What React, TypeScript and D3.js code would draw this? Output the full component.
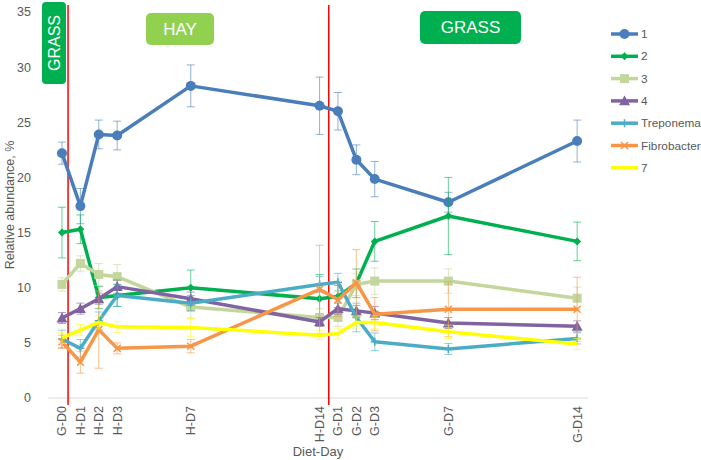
import React from "react";
import * as d3 from "d3";

const categories = ["G-D0","H-D1","H-D2","H-D3","H-D7","H-D14","G-D1","G-D2","G-D3","G-D7","G-D14"];
const dayPos = [0,1,2,3,7,14,15,16,17,21,28];

const s1 = [22.2,17.4,23.9,23.8,28.3,26.5,26.0,21.6,19.85,17.75,23.3];
const e1 = [1.0,1.6,1.3,1.3,1.9,2.6,1.7,1.35,1.6,0.9,1.9];
const s2 = [15.0,15.3,9.1,9.3,10.0,9.0,9.2,10.4,14.2,16.5,14.2];
const e2 = [2.3,1.3,1.0,1.0,1.6,2.2,1.0,1.3,1.8,3.5,1.75];
const s3 = [10.3,12.2,11.2,11.0,8.25,7.3,7.3,10.3,10.6,10.6,9.05];
const e3 = [0.6,0.7,1.0,1.1,1.0,0.8,0.8,1.0,1.2,1.1,1.0];
const s4 = [7.25,8.1,9.0,10.1,9.0,6.9,8.1,7.9,7.7,6.8,6.5];
const e4 = [0.5,0.5,0.5,0.6,0.6,0.4,0.5,0.5,0.6,0.5,0.5];
const sTrep = [5.35,4.5,7.0,9.3,8.6,10.3,10.5,7.3,5.1,4.45,5.4];
const eTrep = [0.8,0.8,0.8,1.0,0.7,0.7,0.8,1.3,0.8,0.5,0.5];
const sFib = [5.1,3.25,6.2,4.5,4.7,9.85,8.9,10.45,7.6,8.05,8.05];
const eFib = [0.6,1.0,3.5,0.5,0.6,4.0,1.5,3.0,1.5,2.5,2.9];
const s7 = [5.45,6.15,6.85,6.45,6.4,5.7,5.85,6.85,6.85,6.0,4.9];
const e7 = [0.5,0.5,0.6,0.5,0.8,0.4,0.5,0.5,0.6,0.6,0.5];

const seriesNames = ["1","2","3","4","Treponema","Fibrobacter","7"];
const seriesColors = ["#4a7ebb","#00b050","#c3d69b","#8064a2","#4bacc6","#f79646","#ffff00"];
const seriesMarkers = ["circle","diamond","square","triangle","plus","cross","none"];
const seriesValues = [s1,s2,s3,s4,sTrep,sFib,s7];
const seriesErrors = [e1,e2,e3,e4,eTrep,eFib,e7];

const yTicks = [0,5,10,15,20,25,30,35];
const dietChanges = [0.33, 14.5];

const W = 701, H = 460;
const FONT = "'Liberation Sans', Arial, sans-serif";
const TXT = "#595959";

function Marker({ type, x, y, color }: { type: string; x: number; y: number; color: string }) {
  if (type === "circle") return <circle cx={x} cy={y} r={5} fill={color} />;
  if (type === "diamond") {
    const r = 4;
    return <path d={`M${x},${y - r}L${x + r},${y}L${x},${y + r}L${x - r},${y}Z`} fill={color} />;
  }
  if (type === "square") return <rect x={x - 4.5} y={y - 4.5} width={9} height={9} fill={color} />;
  if (type === "triangle") {
    const r = 5.5;
    return <path d={`M${x},${y - r}L${x + r},${y + r * 0.8}L${x - r},${y + r * 0.8}Z`} fill={color} />;
  }
  if (type === "plus") {
    const r = 4;
    return <path d={`M${x - r},${y}L${x + r},${y}M${x},${y - r}L${x},${y + r}`} stroke={color} strokeWidth={1.5} />;
  }
  if (type === "cross") {
    const r = 3.5;
    return <path d={`M${x - r},${y - r}L${x + r},${y + r}M${x - r},${y + r}L${x + r},${y - r}`} stroke={color} strokeWidth={1.5} />;
  }
  return null;
}

export default function App() {
  const x = d3.scaleLinear().domain([-0.76, 28.59]).range([48, 588]);
  const y = d3.scaleLinear().domain([0, 35]).range([398, 12]);

  const line = d3.line<number>()
    .x((_, i) => x(dayPos[i]))
    .y((v) => y(v));

  return (
    <svg width={W} height={H} style={{ position: "absolute", left: 0, top: 0, background: "#fff" }} fontFamily={FONT}>
      {/* y tick labels */}
      {yTicks.map((t) => (
        <text key={t} x={31} y={y(t)} dy="0.35em" textAnchor="end" fontSize={12.5} fill={TXT}>{t}</text>
      ))}
      <text transform={`translate(10,${y(17.5)}) rotate(-90)`} textAnchor="middle" dy="0.35em" fontSize={12.5} fill={TXT}>
        Relative abundance, %
      </text>

      {/* x axis */}
      <line x1={x.range()[0]} x2={x.range()[1]} y1={y(0)} y2={y(0)} stroke="#d9d9d9" strokeWidth={1} />
      {categories.map((c, i) => (
        <text key={c} transform={`translate(${x(dayPos[i])},${y(0) + 8}) rotate(-90)`} textAnchor="end" dy="0.35em" fontSize={12.5} fill={TXT}>{c}</text>
      ))}
      <text x={318} y={456} textAnchor="middle" fontSize={13} fill={TXT}>Diet-Day</text>

      {/* diet change lines */}
      {dietChanges.map((d) => (
        <line key={d} x1={x(d)} x2={x(d)} y1={5} y2={y(0) + 7} stroke="#ff0000" strokeWidth={1.5} />
      ))}

      {/* diet boxes */}
      <rect x={42} y={2} width={24} height={82} rx={4} fill="#00b050" />
      <text transform={`translate(54.5,43) rotate(-90)`} textAnchor="middle" dy="0.36em" fontSize={16} fill="#fff">GRASS</text>
      <rect x={146} y={13} width={68} height={32} rx={5} fill="#92d050" />
      <text x={180} y={29} textAnchor="middle" dy="0.36em" fontSize={17} fill="#fff">HAY</text>
      <rect x={420} y={11} width={101} height={33} rx={5} fill="#00b050" />
      <text x={470.5} y={27} textAnchor="middle" dy="0.36em" fontSize={17} fill="#fff">GRASS</text>

      {/* series */}
      {seriesValues.map((vals, si) => {
        const col = seriesColors[si];
        const errs = seriesErrors[si];
        return (
          <g key={si}>
            {vals.map((v, i) => {
              const cx = x(dayPos[i]);
              const t = y(v + errs[i]);
              const b = y(Math.max(0, v - errs[i]));
              return (
                <g key={i} stroke={col} strokeOpacity={0.6} strokeWidth={1}>
                  <line x1={cx} x2={cx} y1={t} y2={b} />
                  <line x1={cx - 4} x2={cx + 4} y1={t} y2={t} />
                  <line x1={cx - 4} x2={cx + 4} y1={b} y2={b} />
                </g>
              );
            })}
            <path d={line(vals) || ""} fill="none" stroke={col} strokeWidth={3.5} strokeLinejoin="round" />
            {vals.map((v, i) => (
              <Marker key={i} type={seriesMarkers[si]} x={x(dayPos[i])} y={y(v)} color={col} />
            ))}
          </g>
        );
      })}

      {/* legend */}
      {seriesNames.map((n, i) => {
        const ly = 34 + i * 22.3;
        return (
          <g key={n}>
            <line x1={611} x2={638} y1={ly} y2={ly} stroke={seriesColors[i]} strokeWidth={3.5} />
            <Marker type={seriesMarkers[i]} x={624.5} y={ly} color={seriesColors[i]} />
            <text x={641} y={ly} dy="0.35em" fontSize={11.8} fill={TXT}>{n}</text>
          </g>
        );
      })}
    </svg>
  );
}
